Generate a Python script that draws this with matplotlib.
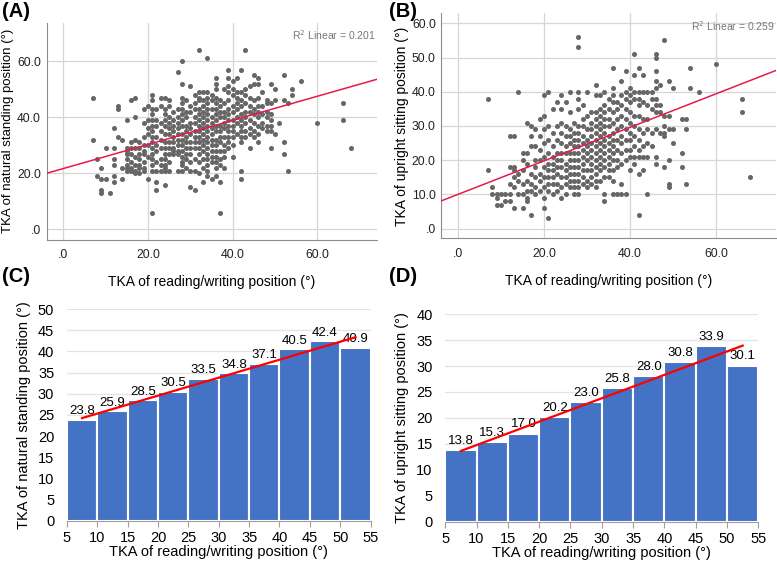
import numpy as np
import matplotlib.pyplot as plt

plt.rcParams['font.family'] = ['Liberation Sans', 'DejaVu Sans']

# scatter (A): reading/writing TKA -> natural standing TKA, grouped by x column
A_COLS = {
    7: [47, 32], 8: [25, 19], 9: [22, 18, 14, 13], 10: [29, 18], 11: [13],
    12: [36, 29, 25, 23, 19, 17], 13: [44, 43, 33], 14: [32, 22, 18],
    15: [39, 29, 28, 27, 25, 23, 22, 21], 16: [46, 31, 29, 27, 24, 22, 21],
    17: [47, 40, 32, 29, 26, 23, 21, 20], 18: [31, 29, 27, 25, 23, 22, 20],
    19: [43, 38, 33, 30, 28, 27, 24, 22, 21], 20: [44, 39, 36, 34, 30, 26, 18],
    21: [48, 46, 43, 41, 39, 37, 35, 33, 31, 29, 27, 25, 23, 21, 6],
    22: [43, 39, 37, 33, 30, 28, 24, 21, 17, 14],
    23: [47, 44, 38, 35, 32, 29, 25, 23, 21],
    24: [47, 43, 41, 39, 37, 34, 31, 29, 27, 25, 23, 22, 21, 16],
    25: [46, 44, 40, 38, 36, 34, 31, 29, 27, 24, 21],
    26: [42, 39, 37, 35, 33, 31, 29, 28, 27],
    27: [56, 43, 40, 38, 36, 34, 32, 30, 28, 27, 21],
    28: [60, 52, 47, 45, 43, 41, 39, 37, 34, 32, 30, 28, 26, 24, 23, 21],
    29: [46, 42, 40, 37, 35, 33, 31, 29, 27, 25, 22],
    30: [51, 44, 42, 38, 36, 34, 31, 29, 27, 24, 21, 15],
    31: [48, 45, 43, 40, 38, 35, 33, 31, 29, 25, 21, 14],
    32: [64, 49, 47, 46, 43, 41, 39, 37, 35, 33, 31, 29, 27, 24, 20],
    33: [49, 46, 44, 42, 40, 38, 36, 34, 32, 30, 28, 25, 22, 17],
    34: [61, 49, 47, 45, 43, 41, 39, 37, 35, 33, 31, 29, 27, 25, 23, 21, 19],
    35: [48, 46, 43, 40, 38, 36, 34, 32, 30, 28, 26, 24, 18],
    36: [54, 52, 50, 47, 45, 43, 41, 39, 37, 35, 32, 30, 28, 26, 24, 22, 19],
    37: [46, 44, 42, 40, 37, 35, 33, 31, 28, 25, 23, 17, 6],
    38: [50, 45, 42, 40, 38, 36, 33, 30, 28, 26, 22],
    39: [57, 54, 51, 49, 46, 43, 41, 39, 37, 35, 33, 31, 29],
    40: [53, 50, 48, 44, 42, 39, 37, 35, 33, 30, 26],
    41: [54, 49, 47, 45, 43, 40, 38, 34],
    42: [57, 49, 46, 44, 41, 39, 37, 35, 33, 31, 21, 18],
    43: [64, 50, 48, 45, 42, 40, 38, 35, 33],
    44: [51, 47, 44, 42, 39, 36, 34, 29],
    45: [55, 52, 46, 43, 41, 38, 35, 33],
    46: [54, 52, 47, 44, 42, 40, 37, 34, 31],
    47: [49, 44, 41, 38, 36], 48: [46, 45, 42, 40, 37, 35],
    49: [52, 45, 41, 39, 37, 35, 29], 50: [50, 46, 34], 51: [38],
    52: [55, 46, 31, 27], 53: [45, 21], 54: [50, 48], 56: [53], 60: [38],
    66: [45, 39], 68: [29],
}

# scatter (B): reading/writing TKA -> upright sitting TKA
B_COLS = {
    7: [38, 17], 8: [12, 10], 9: [10, 9, 7], 10: [10, 7], 11: [10, 8],
    12: [27, 18, 13, 10, 8], 13: [27, 18, 17, 15, 12, 6], 14: [40, 16, 14, 10],
    15: [22, 20, 17, 13, 10, 6], 16: [31, 22, 19, 14, 11, 9, 8],
    17: [30, 27, 24, 16, 13, 11, 4], 18: [29, 24, 20, 18, 15, 12, 10],
    19: [32, 27, 23, 20, 16, 14, 11],
    20: [39, 33, 29, 25, 21, 18, 15, 12, 9, 6],
    21: [40, 30, 26, 22, 19, 17, 15, 13, 11, 3],
    22: [35, 28, 24, 21, 19, 17, 15, 13, 10],
    23: [37, 30, 26, 22, 20, 18, 16, 13, 11],
    24: [39, 35, 31, 28, 25, 22, 20, 18, 15, 12, 9],
    25: [37, 30, 27, 24, 22, 19, 17, 15, 13, 10],
    26: [40, 34, 29, 27, 25, 22, 20, 18, 16, 14, 12],
    27: [31, 28, 26, 24, 22, 20, 18, 16, 14, 12, 10],
    28: [56, 53, 40, 38, 35, 30, 28, 26, 24, 22, 20, 18, 16, 14, 12, 10],
    29: [36, 32, 30, 27, 25, 23, 21, 19, 17, 15, 13],
    30: [40, 33, 29, 26, 24, 22, 20, 17, 14, 12],
    31: [34, 31, 29, 27, 25, 23, 21, 19, 17, 15, 13],
    32: [42, 39, 34, 32, 30, 28, 26, 24, 22, 20, 18, 16, 14, 12],
    33: [39, 35, 33, 31, 29, 27, 25, 23, 21, 19, 17, 14],
    34: [40, 36, 34, 32, 30, 28, 26, 24, 22, 20, 18, 15, 10, 8],
    35: [38, 35, 32, 30, 27, 25, 23, 21, 19, 17, 15],
    36: [47, 41, 39, 37, 34, 31, 28, 26, 24, 22, 20, 17, 14, 10],
    37: [37, 35, 32, 29, 26, 23, 20, 18, 10],
    38: [43, 39, 36, 33, 30, 27, 25, 22, 19, 13, 10],
    39: [46, 40, 38, 35, 32, 29, 26, 23, 20, 10],
    40: [41, 39, 37, 34, 31, 28, 26, 23, 21, 17],
    41: [51, 45, 40, 38, 33, 30, 27, 24, 21, 19],
    42: [47, 40, 38, 36, 33, 29, 26, 23, 21, 16, 4],
    43: [45, 40, 37, 32, 28, 24, 21, 17],
    44: [40, 36, 32, 29, 25, 21, 10],
    45: [40, 38, 35, 28, 24],
    46: [51, 50, 46, 43, 41, 38, 36, 34, 29, 21, 19],
    47: [42, 36, 34, 28], 48: [55, 33, 30, 28, 27, 18],
    49: [43, 33, 29, 20, 13, 12], 50: [41, 29, 25], 52: [32, 22, 18],
    53: [32, 29, 13], 54: [47, 41], 56: [40], 60: [48], 66: [38, 34], 68: [15],
}
# fit lines as printed on the figure (slope, intercept) and R squared
A_FIT = (0.430, 21.7)
B_FIT = (0.490, 10.0)
A_R2 = 0.201
B_R2 = 0.259

# bar charts (C), (D): mean TKA per 5-degree bin of reading/writing TKA
bin_edges = [5, 10, 15, 20, 25, 30, 35, 40, 45, 50, 55]
C_vals = [23.8, 25.9, 28.5, 30.5, 33.5, 34.8, 37.1, 40.5, 42.4, 40.9]
D_vals = [13.8, 15.3, 17.0, 20.2, 23.0, 25.8, 28.0, 30.8, 33.9, 30.1]

XLAB = 'TKA of reading/writing position (\u00b0)'
DOT = '#666666'
GRID = '#d6d6d6'
BLUE = '#4472C4'


def expand(cols):
    xs, ys = [], []
    for x, vals in cols.items():
        xs += [x]*len(vals)
        ys += vals
    return np.array(xs, float), np.array(ys, float)


def fmt(v):
    s = '%.1f' % v
    return s[1:] if s.startswith('0') else s


def scatter_panel(ax, cols, fit, r2, ylim, yticks, ylabel, ysize=10):
    x, y = expand(cols)
    ax.scatter(x, y, s=13, color=DOT, linewidths=0, zorder=3)
    a, b = fit
    xl = (-3.9, 74)
    xx = np.array(xl)
    ax.plot(xx, a*xx + b, color='#e8194b', lw=1.1, zorder=4)
    ax.set_xlim(*xl)
    ax.set_ylim(*ylim)
    ax.set_xticks([0, 20, 40, 60])
    ax.set_xticklabels([fmt(v) for v in [0, 20, 40, 60]])
    ax.set_yticks(yticks)
    ax.set_yticklabels([fmt(v) for v in yticks])
    ax.grid(True, color=GRID, lw=0.9)
    ax.set_axisbelow(True)
    for s in ['top', 'right']:
        ax.spines[s].set_visible(False)
    for s in ['left', 'bottom']:
        ax.spines[s].set_color('#8c8c8c')
    ax.tick_params(length=0, labelsize=8.8, colors='#222222', pad=4)
    ax.tick_params(axis='x', pad=7)
    ax.set_xlabel(XLAB, fontsize=10, labelpad=10)
    ax.set_ylabel(ylabel, fontsize=ysize, labelpad=2)
    ax.text(0.995, 0.975, 'R$^2$ Linear = %.3f' % r2, transform=ax.transAxes,
            ha='right', va='top', fontsize=7.5, color='#777777')


def bar_panel(ax, vals, ymax, ylabel):
    left = np.array(bin_edges[:-1], float)
    ax.bar(left, vals, width=5, align='edge', color=BLUE,
           edgecolor='white', linewidth=1.5, zorder=2)
    centers = left + 2.5
    for c, v in zip(centers, vals):
        ax.text(c, v + 0.6, '%.1f' % v, ha='center', va='bottom', fontsize=9.5)
    a, b = np.polyfit(centers, vals, 1)
    ax.plot(centers[[0, -1]], a*centers[[0, -1]] + b, color='red', lw=1.6, zorder=3)
    ax.set_xlim(5, 55)
    ax.set_ylim(0, ymax)
    ax.set_xticks(bin_edges)
    ax.set_yticks(np.arange(0, ymax + 1, 5))
    ax.yaxis.grid(True, color='#e3e3e3', lw=0.9)
    ax.set_axisbelow(True)
    for s in ['top', 'right', 'left']:
        ax.spines[s].set_visible(False)
    ax.spines['bottom'].set_color('#a0a0a0')
    ax.tick_params(axis='y', length=0, labelsize=10.5, pad=9)
    ax.tick_params(axis='x', length=4, color='#a0a0a0', labelsize=10.5)
    ax.set_xlabel(XLAB, fontsize=10.5, labelpad=0)
    ax.set_ylabel(ylabel, fontsize=10.5, labelpad=5)


fig = plt.figure(figsize=(7.77, 5.61), dpi=100)
axA = fig.add_axes([0.060, 0.573, 0.425, 0.386])
axB = fig.add_axes([0.568, 0.575, 0.431, 0.401])
axC = fig.add_axes([0.086, 0.072, 0.391, 0.377])
axD = fig.add_axes([0.573, 0.070, 0.403, 0.370])

scatter_panel(axA, A_COLS, A_FIT, A_R2, (-3.6, 73.6), [0, 20, 40, 60],
              'TKA of natural standing position (\u00b0)', ysize=9.5)
scatter_panel(axB, B_COLS, B_FIT, B_R2, (-2.9, 62.9), [0, 10, 20, 30, 40, 50, 60],
              'TKA of upright sitting position (\u00b0)')
bar_panel(axC, C_vals, 50, 'TKA of natural standing position (\u00b0)')
bar_panel(axD, D_vals, 40, 'TKA of upright sitting position (\u00b0)')

for lab, x, y in [('(A)', 0.002, 0.997), ('(B)', 0.500, 0.997),
                  ('(C)', 0.002, 0.524), ('(D)', 0.500, 0.524)]:
    fig.text(x, y, lab, fontsize=14.5, fontweight='bold', ha='left', va='top')

fig.savefig('out.png', dpi=100)
